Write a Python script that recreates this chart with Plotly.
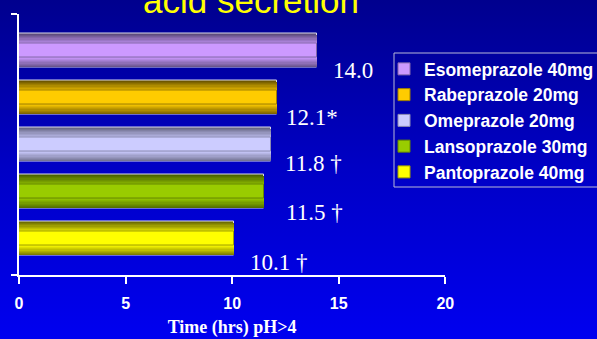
import base64
import plotly.graph_objects as go

# ---- data -------------------------------------------------------------
drugs = ["Esomeprazole 40mg", "Rabeprazole 20mg", "Omeprazole 20mg",
         "Lansoprazole 30mg", "Pantoprazole 40mg"]
hours = [14.0, 12.1, 11.8, 11.5, 10.1]          # mean time (hrs) with intragastric pH > 4
marks = ["", "*", " †", " †", " †"]             # significance markers
x_ticks = [0, 5, 10, 15, 20]

# ---- styling ----------------------------------------------------------
center_colors = ["#cc99ff", "#ffcc00", "#ccccff", "#99cc00", "#ffff00"]
edge_colors = ["#5e4d7e", "#6e5700", "#6a6a88", "#4a6300", "#6e6e00"]
label_dx = [14, 7, 12, 20, 14]       # pixel offsets of the value labels
label_dy = [20, 20, 19, 21, 24]

W, H = 597, 339
BAR_W = 0.73
N_LAYERS = 10
Y_RANGE = [-0.772, 4.786]

serif = "Liberation Serif, Times New Roman, serif"
sans = "Liberation Sans, Arial, sans-serif"


def blend(c1, c2, t):
    a = [int(c1[i:i + 2], 16) for i in (1, 3, 5)]
    b = [int(c2[i:i + 2], 16) for i in (1, 3, 5)]
    return "#" + "".join(f"{round(x + (y - x) * t):02x}" for x, y in zip(a, b))


positions = list(range(len(drugs)))[::-1]   # first drug on top

fig = go.Figure()

# each bar is built from stacked overlays so it shades from a dark rim to a bright core
for name, val, pos, cc, ec in zip(drugs, hours, positions, center_colors, edge_colors):
    for i in range(N_LAYERS):
        t = i / (N_LAYERS - 1)
        width = BAR_W * (1 - 0.6 * t)
        inner = i == N_LAYERS - 1
        if i == 0:
            line = dict(color="#d8d8e8", width=1)
        elif inner:
            line = dict(color=blend(ec, cc, 0.35), width=1)
        else:
            line = dict(width=0)
        fig.add_trace(go.Bar(
            x=[val], y=[pos], orientation="h", width=width,
            marker=dict(color=blend(ec, cc, t), line=line),
            name=name, legendgroup=name, showlegend=inner,
            hoverinfo="skip",
        ))

# value labels
for val, pos, mk, dx, dy in zip(hours, positions, marks, label_dx, label_dy):
    fig.add_annotation(
        x=val, y=pos, text=f"{val:.1f}{mk}", showarrow=False,
        xanchor="left", yanchor="middle", xshift=dx, yshift=-dy,
        font=dict(family=serif, size=23, color="white"),
    )

# title, partly clipped by the top edge
fig.add_annotation(
    xref="paper", yref="paper", x=251 / W, y=1.0, yanchor="middle",
    text="acid secretion", showarrow=False,
    font=dict(family=sans, size=35, color="#ffff00"),
)

# frame around the legend, running off the right edge
fig.add_shape(
    type="rect", xref="paper", yref="paper",
    x0=394 / W, x1=(W + 10) / W, y0=(H - 187) / H, y1=(H - 53) / H,
    line=dict(color="#b8b8d8", width=1), fillcolor="rgba(0,0,0,0)", layer="above",
)

svg = (
    "<svg xmlns='http://www.w3.org/2000/svg' width='597' height='339' preserveAspectRatio='none'>"
    "<defs><linearGradient id='g' x1='0' y1='0' x2='0' y2='1'>"
    "<stop offset='0' stop-color='#00008e'/>"
    "<stop offset='0.5' stop-color='#0000c6'/>"
    "<stop offset='1' stop-color='#0000f0'/>"
    "</linearGradient></defs>"
    "<rect width='100%' height='100%' fill='url(#g)'/></svg>"
)
bg_src = "data:image/svg+xml;base64," + base64.b64encode(svg.encode()).decode()

fig.update_layout(
    width=W, height=H, autosize=False,
    margin=dict(l=0, r=0, t=0, b=0, autoexpand=False),
    paper_bgcolor="#0000b8", plot_bgcolor="rgba(0,0,0,0)",
    barmode="overlay", bargap=0,
    images=[dict(source=bg_src, xref="paper", yref="paper", x=0, y=1,
                 sizex=1, sizey=1, xanchor="left", yanchor="top",
                 sizing="stretch", layer="below")],
    xaxis=dict(
        domain=[19 / W, 445.3 / W], range=[0, 20],
        tickvals=x_ticks, ticks="outside", ticklen=7, tickwidth=2, tickcolor="white",
        showline=True, linecolor="white", linewidth=2,
        showgrid=False, zeroline=False, ticklabelstandoff=6,
        tickfont=dict(family=sans, size=16, color="white", weight="bold"),
        title=dict(text="Time (hrs) pH>4", standoff=9,
                   font=dict(family=serif, size=18, color="white", weight="bold")),
    ),
    yaxis=dict(
        domain=[(H - 275) / H, (H - 13.5) / H], range=Y_RANGE,
        tickvals=Y_RANGE, ticktext=["", ""], ticks="outside", ticklen=6,
        tickwidth=2, tickcolor="white",
        showline=True, linecolor="white", linewidth=2,
        showgrid=False, zeroline=False,
    ),
    legend=dict(
        xref="container", yref="container",
        x=384 / W, y=(H - 51) / H, xanchor="left", yanchor="top",
        traceorder="grouped", tracegroupgap=0,
        bgcolor="rgba(0,0,0,0)", borderwidth=0,
        font=dict(family=sans, size=17.5, color="white", weight="bold"),
    ),
    showlegend=True,
)

fig.write_html("out.html")
